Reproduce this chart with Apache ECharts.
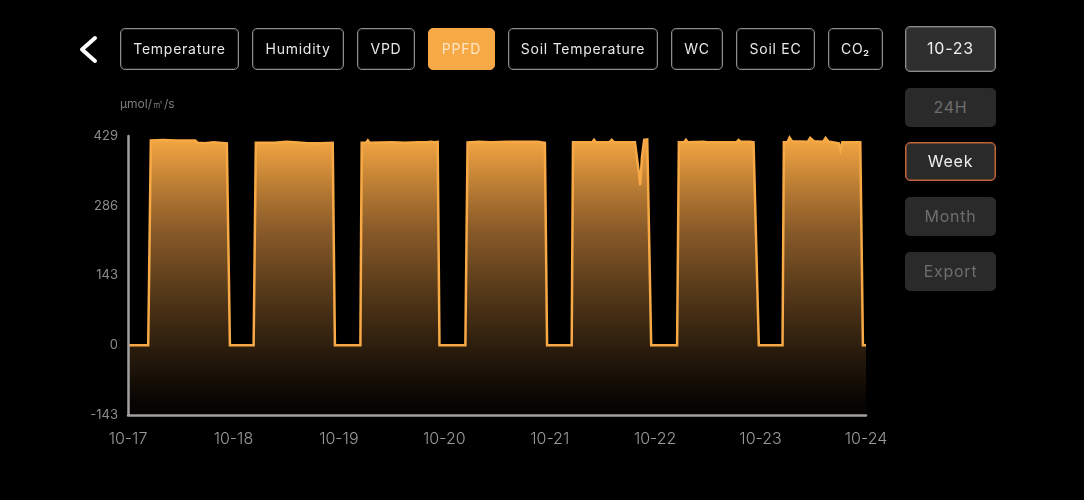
<!DOCTYPE html>
<html>
<head>
<meta charset="utf-8">
<script src="https://cdn.jsdelivr.net/npm/echarts@6/dist/echarts.min.js"></script>
<style>
html, body { margin: 0; padding: 0; background: #000; width: 1084px; height: 500px; overflow: hidden; }
body { position: relative; font-family: Inter, Roboto, sans-serif; }
#chart { position: absolute; left: 0; top: 0; width: 1084px; height: 500px; }
.btn { position: absolute; box-sizing: border-box; display: flex; align-items: center; justify-content: center; border-radius: 5px; font-size: 14px; letter-spacing: 0.75px; color: #e8e8e8; padding-bottom: 2px; }
.tab { top: 28px; height: 42px; border: 1px solid #8c8c8c; box-shadow: inset 0 0 0 1px rgba(140,140,140,.25); }
.tab.on { background: #f7a945; border-color: #f7a945; color: #fde6c4; box-shadow: none; }
.side { left: 905px; width: 91px; background: #2a2a2a; color: #6e6e6e; font-size: 16px; }
.side.date { background: #2f2f2f; border: 1px solid #8c8c8c; color: #eee; box-shadow: inset 0 0 0 1px rgba(140,140,140,.35); }
.side.on { background: #2a2a2a; border: 1px solid #c2643a; color: #eee; box-shadow: inset 0 0 0 1px rgba(194,100,58,.5); }
#back { position: absolute; left: 74px; top: 32px; }
</style>
</head>
<body>
<div id="chart"></div>
<svg id="back" width="30" height="34"><polyline points="21,6 8,17.5 21,29" fill="none" stroke="#fff" stroke-width="4" stroke-linecap="round" stroke-linejoin="round"/></svg>
<div class="btn tab" style="left:120px;width:119px">Temperature</div>
<div class="btn tab" style="left:252px;width:92px">Humidity</div>
<div class="btn tab" style="left:357px;width:58px">VPD</div>
<div class="btn tab on" style="left:428px;width:67px">PPFD</div>
<div class="btn tab" style="left:508px;width:150px">Soil Temperature</div>
<div class="btn tab" style="left:671px;width:52px">WC</div>
<div class="btn tab" style="left:736px;width:79px">Soil EC</div>
<div class="btn tab" style="left:828px;width:55px">CO₂</div>
<div class="btn side date" style="top:26px;height:46px">10-23</div>
<div class="btn side" style="top:88px;height:39px">24H</div>
<div class="btn side on" style="top:142px;height:39px">Week</div>
<div class="btn side" style="top:197px;height:39px">Month</div>
<div class="btn side" style="top:252px;height:39px">Export</div>
<script>
var dayLabels = ['10-17', '10-18', '10-19', '10-20', '10-21', '10-22', '10-23', '10-24'];
var yTicks = [-143, 0, 143, 286, 429];
var unit = 'μmol/㎡/s';

// [hours since 10-17 00:00, PPFD], one list per day
var day1 = [[0, 0], [4.6, 0], [5.2, 420], [8, 421], [11, 420], [15.3, 420], [15.9, 415], [17.5, 414], [19.5, 416], [22.5, 414], [23.2, 0]];
var day2 = [[28.6, 0], [29.1, 415], [31, 415], [32.6, 415], [33, 419], [33.4, 415], [36, 417], [36.4, 414], [38, 416], [41, 414], [44, 414], [46.6, 415], [47.1, 0]];
var day3 = [[52.9, 0], [53.2, 415], [54.2, 415], [54.6, 420], [55, 415], [60, 416], [63, 415], [66, 416], [67.2, 416], [67.6, 420], [68, 416], [69, 417], [69.4, 419], [69.8, 416], [70.5, 417], [70.9, 0], [71.3, 0]];
var day4 = [[76.8, 0], [77.3, 416], [80, 417], [82.2, 416], [82.6, 420], [83, 416], [86.6, 417], [87, 420], [87.4, 417], [90.6, 417], [91, 421], [91.4, 417], [93.2, 417], [93.6, 420], [94, 416], [94.9, 415], [95.4, 0]];
var day5 = [[101, 0], [101.3, 416], [103.1, 416], [103.5, 420], [103.9, 416], [105.7, 416], [106.1, 421], [106.5, 416], [109.6, 416], [110.1, 421], [110.7, 416], [115.4, 416], [116.2, 360], [116.6, 328], [117, 385], [117.5, 421], [118.2, 422], [119.1, 0]];
var day6 = [[125, 0], [125.4, 416], [126.6, 416], [127, 421], [127.4, 416], [131, 417], [131.4, 421], [131.8, 416], [138.5, 416], [139, 421], [139.5, 417], [141.6, 417], [142, 421], [142.4, 416], [142.8, 416], [143.6, 0]];
var day7 = [[149, 0], [149.3, 416], [150.1, 416], [150.6, 426], [151.2, 418], [154.7, 417], [155.3, 425], [156.2, 418], [158.2, 417], [158.8, 425], [159.4, 418], [161.8, 414], [162.2, 400], [162.6, 416], [165, 416], [166.7, 416], [167.3, 0], [168, 0]];

var ppfd = [].concat(day1, day2, day3, day4, day5, day6, day7);

var myChart = echarts.init(document.getElementById('chart'));
var option = {
    backgroundColor: '#000',
    animation: false,
    grid: { left: 128, right: 218, top: 136, bottom: 85 },
    xAxis: {
        type: 'value',
        min: 0,
        max: 168,
        interval: 24,
        z: 5,
        splitLine: { show: false },
        axisTick: { show: false },
        axisLine: { onZero: false, lineStyle: { color: '#a0a0a0', width: 2.5 } },
        axisLabel: {
            color: '#9a9a9a',
            fontSize: 16,
            margin: 16,
            fontWeight: 300,
            fontFamily: 'Inter',
            formatter: function (v) { return dayLabels[v / 24]; }
        }
    },
    yAxis: {
        type: 'value',
        min: yTicks[0],
        max: yTicks[yTicks.length - 1],
        interval: 143,
        z: 5,
        name: unit,
        nameLocation: 'end',
        nameGap: 26,
        nameTextStyle: { color: '#7d7d7d', fontSize: 12, align: 'left', padding: [0, 0, 0, -8], fontFamily: 'Inter' },
        splitLine: { show: false },
        axisTick: { show: false },
        axisLine: { show: true, onZero: false, lineStyle: { color: '#a0a0a0', width: 2.5 } },
        axisLabel: { color: '#8c8c8c', fontSize: 13, margin: 10, padding: [2, 0, 0, 0], fontFamily: 'Inter' }
    },
    series: [{
        type: 'line',
        data: ppfd,
        showSymbol: false,
        smooth: false,
        lineStyle: { color: '#f7a945', width: 2.5, join: 'miter' },
        areaStyle: {
            origin: 'start',
            opacity: 1,
            color: new echarts.graphic.LinearGradient(0, 0, 0, 1, [
                { offset: 0, color: '#f6a743' },
                { offset: 0.2, color: '#b27731' },
                { offset: 0.33, color: '#8a5b29' },
                { offset: 0.55, color: '#573a1a' },
                { offset: 0.75, color: '#2d1e0d' },
                { offset: 0.95, color: '#080503' },
                { offset: 1, color: '#050302' }
            ])
        }
    }]
};
myChart.setOption(option);
</script>
</body>
</html>
